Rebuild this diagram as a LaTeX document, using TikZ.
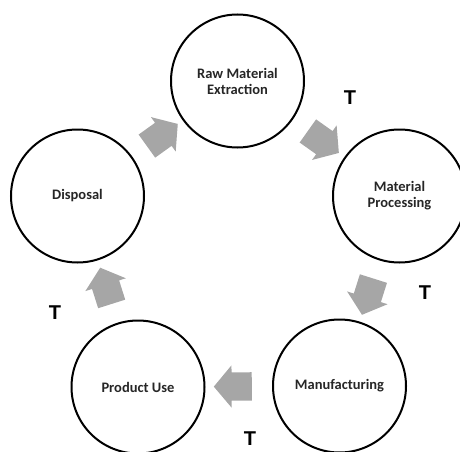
\documentclass[tikz,border=0pt]{standalone}
\usepackage{fontspec}
\setmainfont{Carlito}
\newfontfamily\tfont{Liberation Sans}
\usetikzlibrary{shapes.arrows}

\begin{document}
\begin{tikzpicture}[x=1pt, y=1pt,
    stage/.style={circle, draw=black, line width=2pt, minimum size=133pt, inner sep=0pt,
        align=center, text=black!85, font=\bfseries\fontsize{14.5}{16}\selectfont},
    flowarrow/.style={single arrow, fill=black!35, draw=none, minimum height=38pt,
        inner xsep=0pt, inner ysep=14pt, single arrow head extend=7pt,
        single arrow tip angle=100, sloped, allow upside down},
    tlabel/.style={font=\tfont\bfseries\fontsize{20}{24}\selectfont}]
        \useasboundingbox (0,0) rectangle (460,451);

        % 다섯 단계 원
        \node[stage] (raw) at (237.5, 370) {Raw Material\\Extraction};
        \node[stage] (proc) at (399.5, 255) {Material\\Processing};
        \node[stage] (manu) at (339.5, 65) {Manufacturing};
        \node[stage] (prod) at (138, 64) {Product Use};
        \node[stage] (disp) at (77.5, 255) {Disposal};

        % 단계 사이의 회색 화살표
        \path (raw) -- node[flowarrow] (a1) {} (proc);
        \path (proc) -- node[flowarrow] (a2) {} (manu);
        \path (manu) -- node[flowarrow] (a3) {} (prod);
        \path (prod) -- node[flowarrow] (a4) {} (disp);
        \path (disp) -- node[flowarrow] (a5) {} (raw);

        % 운송 표시 T
        \node[tlabel] (t1) at (350, 353) {T};
        \node[tlabel] (t2) at (425, 158) {T};
        \node[tlabel] (t3) at (250, 12) {T};
        \node[tlabel] (t4) at (55, 138) {T};
\end{tikzpicture}
\end{document}
